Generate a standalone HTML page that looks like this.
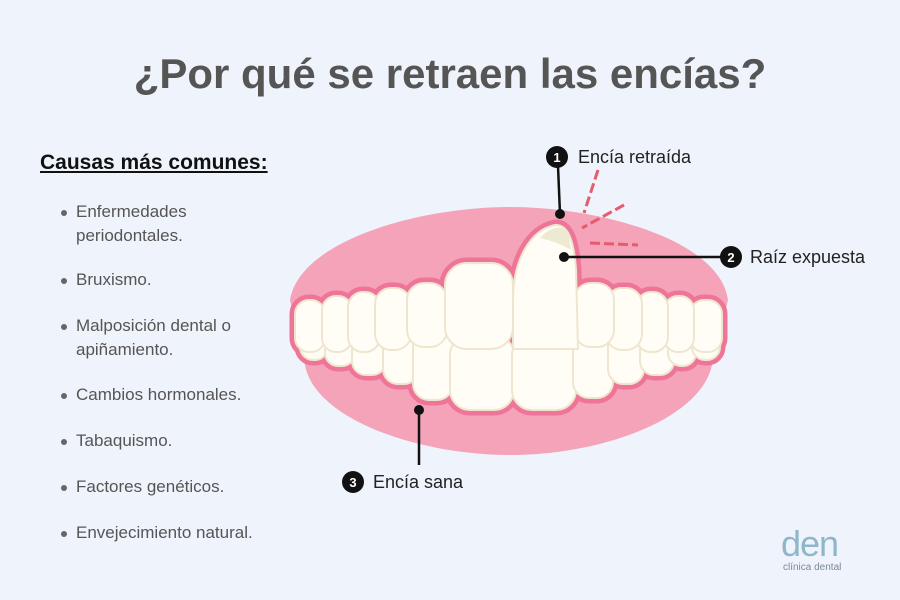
<!DOCTYPE html>
<html><head><meta charset="utf-8"><style>
body{margin:0;width:900px;height:600px;background:#eff3fb;font-family:"Liberation Sans",sans-serif;position:relative;overflow:hidden}
.t{position:absolute;white-space:nowrap}
h1{position:absolute;top:50px;left:0;width:900px;text-align:center;margin:0;font-size:42px;font-weight:bold;color:#555}
.li{position:absolute;left:76px;font-size:17px;color:#555;line-height:24px}
.li:before{content:"";position:absolute;left:-15px;top:10px;width:6px;height:6px;border-radius:50%;background:#666}
</style></head><body>
<h1>¿Por qué se retraen las encías?</h1>
<div class="t" style="left:40px;top:151px;font-size:21px;font-weight:bold;color:#111;text-decoration:underline">Causas más comunes:</div>
<div class="li" style="top:200px">Enfermedades<br>periodontales.</div>
<div class="li" style="top:268px">Bruxismo.</div>
<div class="li" style="top:314px">Malposición dental o<br>apiñamiento.</div>
<div class="li" style="top:383px">Cambios hormonales.</div>
<div class="li" style="top:429px">Tabaquismo.</div>
<div class="li" style="top:475px">Factores genéticos.</div>
<div class="li" style="top:521px">Envejecimiento natural.</div>
<svg width="900" height="600" style="position:absolute;left:0;top:0">
<defs>
<g id="teeth">
<rect x="300" y="315" width="28" height="45" rx="13"/>
<rect x="325" y="318" width="30" height="48" rx="13"/>
<rect x="352" y="320" width="34" height="55" rx="14"/>
<rect x="383" y="322" width="36" height="62" rx="15"/>
<rect x="413" y="330" width="40" height="70" rx="16"/>
<rect x="450" y="335" width="64" height="75" rx="20"/>
<rect x="512" y="335" width="64" height="75" rx="20"/>
<rect x="573" y="330" width="40" height="68" rx="16"/>
<rect x="608" y="322" width="36" height="62" rx="15"/>
<rect x="640" y="320" width="34" height="55" rx="14"/>
<rect x="668" y="318" width="28" height="48" rx="13"/>
<rect x="692" y="315" width="28" height="45" rx="13"/>
<rect x="295" y="300" width="30" height="52" rx="14"/>
<rect x="322" y="296" width="30" height="56" rx="14"/>
<rect x="348" y="292" width="32" height="60" rx="15"/>
<rect x="375" y="288" width="36" height="62" rx="16"/>
<rect x="407" y="283" width="40" height="64" rx="17"/>
<rect x="690" y="300" width="32" height="52" rx="14"/>
<rect x="664" y="296" width="30" height="56" rx="14"/>
<rect x="636" y="292" width="32" height="60" rx="15"/>
<rect x="606" y="288" width="36" height="62" rx="16"/>
<rect x="574" y="283" width="40" height="64" rx="17"/>
<rect x="445" y="263" width="68" height="86" rx="22"/>
<path d="M513,349 L513,300 C513,260 530,230 555,225 C568,224 574,240 576,270 L578,349 Z"/>
</g>
</defs>
<path d="M290,300 C300,240 420,207 510,207 C600,207 720,240 728,300 L712,365 C700,420 600,455 510,455 C420,455 315,420 305,365 Z" fill="#f4a3b8"/>
<use href="#teeth" fill="#ee7598" stroke="#ee7598" stroke-width="11" stroke-linejoin="round"/>
<use href="#teeth" fill="#fffdf5" stroke="#efe6cf" stroke-width="2"/>
<path d="M540,238 C548,228 562,224 568,232 L571,250 C560,243 548,240 540,238Z" fill="#eeead2"/>
<g stroke="#e85a6e" stroke-width="3" stroke-dasharray="10,4">
<line x1="598" y1="170" x2="584" y2="213"/>
<line x1="624" y1="205" x2="582" y2="228"/>
<line x1="590" y1="243" x2="638" y2="245"/>
</g>
<g stroke="#111" stroke-width="2.5" fill="#111">
<line x1="558" y1="166" x2="560" y2="214"/>
<line x1="564" y1="257" x2="722" y2="257"/>
<line x1="419" y1="410" x2="419" y2="465"/>
</g>
<g fill="#111"><circle cx="560" cy="214" r="5"/><circle cx="564" cy="257" r="5"/><circle cx="419" cy="410" r="5"/>
<circle cx="557" cy="157" r="11"/><circle cx="731" cy="257" r="11"/><circle cx="353" cy="482" r="11"/></g>
<g fill="#fff" font-family="Liberation Sans" font-weight="bold" font-size="13" text-anchor="middle">
<text x="557" y="162">1</text><text x="731" y="262">2</text><text x="353" y="487">3</text></g>
<g fill="#222" font-family="Liberation Sans" font-size="18">
<text x="578" y="163">Encía retraída</text><text x="750" y="263">Raíz expuesta</text><text x="373" y="488">Encía sana</text></g>
<text x="781" y="556" font-family="Liberation Sans" font-size="36" fill="#8fb6c9" letter-spacing="-1">den</text>
<text x="783" y="570" font-family="Liberation Sans" font-size="10" fill="#7a8a94">clínica dental</text>
</svg>
</body></html>
